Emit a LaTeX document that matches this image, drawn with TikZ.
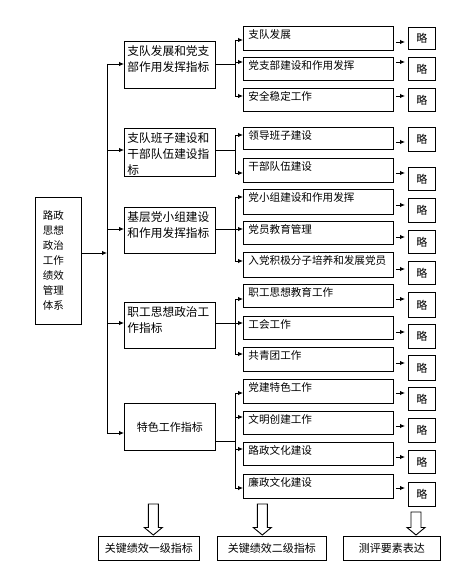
\documentclass[tikz,border=0pt]{standalone}
\usepackage{fontspec}
\setmainfont{Noto Sans CJK SC}
\usetikzlibrary{arrows.meta}
\begin{document}
\begin{tikzpicture}[x=1pt,y=-1pt,
  ln/.style={line width=0.9pt, draw=black},
  arr/.style={ln, -{Latex[length=5pt,width=4.5pt]}},
  boxbase/.style={ln, anchor=north west, inner ysep=0pt},
  rootbox/.style={boxbase, text width=31pt, inner xsep=7.5pt, minimum height=127pt, align=left, font=\fontsize{10.5}{15}\selectfont},
  lvone/.style={boxbase, text width=85pt, inner xsep=3pt, align=left, text height=14.3pt, text depth=#1, font=\fontsize{11.7}{16}\selectfont},
  lvfive/.style={boxbase, minimum width=91pt, minimum height=47pt, inner xsep=0pt, font=\fontsize{11}{13}\selectfont},
  lvtwo/.style={boxbase, text width=140pt, inner xsep=5pt, align=left, text height=12pt, text depth=#1, font=\fontsize{10.6}{13}\selectfont},
  luebox/.style={boxbase, minimum width=27pt, minimum height=#1, inner xsep=0pt, font=\fontsize{11}{13}\selectfont},
  botbox/.style={boxbase, minimum height=24pt, minimum width=#1, inner xsep=0pt, font=\fontsize{11}{13}\selectfont},
  hollow/.style={ln, fill=white, line join=miter}
]
\useasboundingbox[fill=white] (0,0) rectangle (454,569);

% root
\node[rootbox] (R) at (35,197) {路政\\思想\\政治\\工作\\绩效\\管理\\体系};

% level one
\node[lvone=32.7pt] (L1) at (124,41) {支队发展和党支\\部作用发挥指标};
\node[lvone=33.7pt] (L2) at (124,128) {支队班子建设和\\干部队伍建设指\\标};
\node[lvone=31.7pt] (L3) at (124,207) {基层党小组建设\\和作用发挥指标};
\node[lvone=31.7pt] (L4) at (124,302) {职工思想政治工\\作指标};
\node[lvfive] (L5) at (124,403) {特色工作指标};

% main bus
\coordinate (mb) at (107,253);
\draw[arr] (R.east |- mb) -- (mb);
\draw[ln] (mb |- 0,64) -- (mb |- 0,433);
\foreach \k/\y in {1/64,2/150,3/229,4/323,5/433}
  \draw[arr] (mb |- 0,\y) -- (L\k.west |- 0,\y);

% junctions of the sub buses
\coordinate (j1) at (235,64);
\coordinate (j2) at (235,150);
\coordinate (j3) at (235,229);
\coordinate (j4) at (235,323);
\coordinate (j5) at (235,441);
\foreach \k in {1,...,5}
  \draw[ln] (L\k.east |- j\k) -- (j\k);
\foreach \k/\a/\b in {1/40/96,2/135/173,3/197/261,4/299/354,5/393/488}
  \draw[ln] (j\k |- 0,\a) -- (j\k |- 0,\b);

% level two rows and 略 boxes
\foreach \n/\g/\t/\top/\h/\yin/\ltop/\lh/\yout in {
  1/1/支队发展/26/24/40/27/22/42,
  2/1/党支部建设和作用发挥/57/23/62/57/23/62,
  3/1/安全稳定工作/88/23/96/88/23/96,
  4/2/领导班子建设/127/22/135/127/24/142,
  5/2/干部队伍建设/158/24/173/167/23/173,
  6/3/党小组建设和作用发挥/189/25/197/198/24/205,
  7/3/党员教育管理/221/23/229/230/23/237,
  8/3/入党积极分子培养和发展党员/252/25/261/261/23/269,
  9/4/职工思想教育工作/284/23/299/292/25/299,
  10/4/工会工作/316/23/323/324/24/332,
  11/4/共青团工作/347/24/354/355/25/363,
  12/5/党建特色工作/379/24/393/387/23/393,
  13/5/文明创建工作/411/23/417/418/24/426,
  14/5/路政文化建设/442/23/449/450/23/457,
  15/5/廉政文化建设/474/24/488/482/24/488}
{
  \pgfmathsetmacro\dep{\h-12}
  \node[lvtwo=\dep pt] (r\n) at (243,\top) {\t};
  \node[luebox=\lh pt] (l\n) at (408,\ltop) {略};
  \draw[arr] (j\g |- 0,\yin) -- (r\n.west |- 0,\yin);
  \draw[arr, shorten <=2pt, shorten >=3pt] (r\n.east |- 0,\yout) -- (l\n.west |- 0,\yout);
}

% bottom boxes
\node[botbox=101pt] (B1) at (98,536) {关键绩效一级指标};
\node[botbox=109pt] (B2) at (217,536) {关键绩效二级指标};
\node[botbox=97pt] (B3) at (343,536) {测评要素表达};

% hollow block arrows
\draw[hollow] (148.3,504) -- (148.3,527.5) -- (144.3,527.5) -- (153.3,535) -- (162.3,527.5) -- (158.3,527.5) -- (158.3,504) -- cycle;
\draw[hollow] (257.3,504) -- (257.3,527.5) -- (253.3,527.5) -- (262.3,535) -- (271.3,527.5) -- (267.3,527.5) -- (267.3,504) -- cycle;
\draw[hollow] (411,512) -- (411,527.5) -- (407,527.5) -- (416,535) -- (425,527.5) -- (421,527.5) -- (421,512) -- cycle;
\end{tikzpicture}
\end{document}
